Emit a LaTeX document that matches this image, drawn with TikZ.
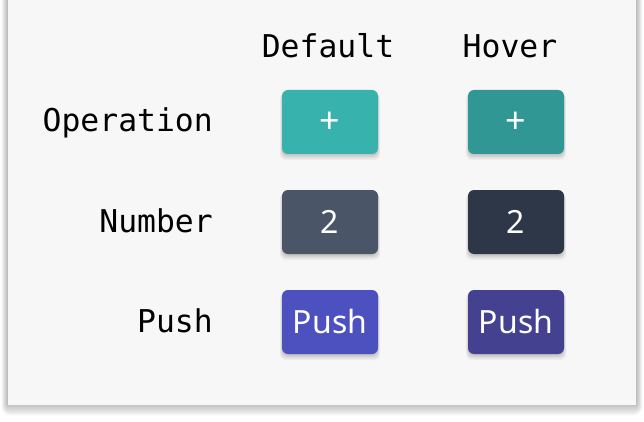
\documentclass[tikz,border=0pt]{standalone}
\usepackage{fontspec}
\setmonofont{DejaVu Sans Mono}
\newfontfamily\btnfont{Noto Sans}
\usetikzlibrary{shadows}

\definecolor{cardgray}{HTML}{F7F7F7}
\definecolor{tealdef}{HTML}{38B2AC}
\definecolor{tealhov}{HTML}{319795}
\definecolor{graydef}{HTML}{4A5568}
\definecolor{grayhov}{HTML}{2D3748}
\definecolor{indigodef}{HTML}{4C51BF}
\definecolor{indigohov}{HTML}{434190}

\tikzset{
  btn/.style={rounded corners=6pt, minimum width=96pt, minimum height=64pt, inner sep=0pt,
    general shadow={fill=black, opacity=.07, shadow xshift=0pt, shadow yshift=-1.5pt},
    general shadow={fill=black, opacity=.06, shadow xshift=0pt, shadow yshift=-2.5pt, shadow scale=1.015},
    general shadow={fill=black, opacity=.05, shadow xshift=0pt, shadow yshift=-3.5pt, shadow scale=1.03},
    general shadow={fill=black, opacity=.04, shadow xshift=0pt, shadow yshift=-4.5pt, shadow scale=1.045}},
  btntext/.style={anchor=base, inner sep=0pt, text=white, font=\btnfont\fontsize{32}{38}\selectfont},
  plustext/.style={btntext, font=\btnfont\fontsize{36}{40}\selectfont},
  rowlabel/.style={anchor=base east, inner sep=0pt, font=\ttfamily\fontsize{31.4}{38}\selectfont},
  colhead/.style={anchor=base, inner sep=0pt, font=\ttfamily\fontsize{31.4}{38}\selectfont},
}

\begin{document}
\begin{tikzpicture}[x=1pt,y=-1pt]
\useasboundingbox[fill=white] (0,0) rectangle (644,422);

%Shape: Card shadow
\foreach \r in {1,...,9}
  \fill [black, opacity=0.03, rounded corners=\r pt] (8-0.7*\r,-20) rectangle (636+0.7*\r,403+1.4*\r);
%Shape: Card
\fill [cardgray] (8,-20) rectangle (636,405);

% Text Node: column heads
\node [colhead] (hdef) at (328,58) {Default};
\node [colhead] (hhov) at (510,58) {Hover};

% Text Node: row labels
\node [rowlabel] (lop) at (213,132) {Operation};
\node [rowlabel] (lnum) at (213,232) {Number};
\node [rowlabel] (lpush) at (213,332) {Push};

%Shape: Operation buttons
\node [btn, fill=tealdef] (opdef) at (330,122) {};
\node [btn, fill=tealhov] (ophov) at (516,122) {};
\node [plustext] at (330,134) {+};
\node [plustext] at (516,134) {+};

%Shape: Number buttons
\node [btn, fill=graydef] (numdef) at (330,222) {};
\node [btn, fill=grayhov] (numhov) at (516,222) {};
\node [btntext] at (330,233) {2};
\node [btntext] at (516,233) {2};

%Shape: Push buttons
\node [btn, fill=indigodef] (pushdef) at (330,322) {};
\node [btn, fill=indigohov] (pushhov) at (516,322) {};
\node [btntext] at (330,333) {Push};
\node [btntext] at (516,333) {Push};

\end{tikzpicture}
\end{document}
